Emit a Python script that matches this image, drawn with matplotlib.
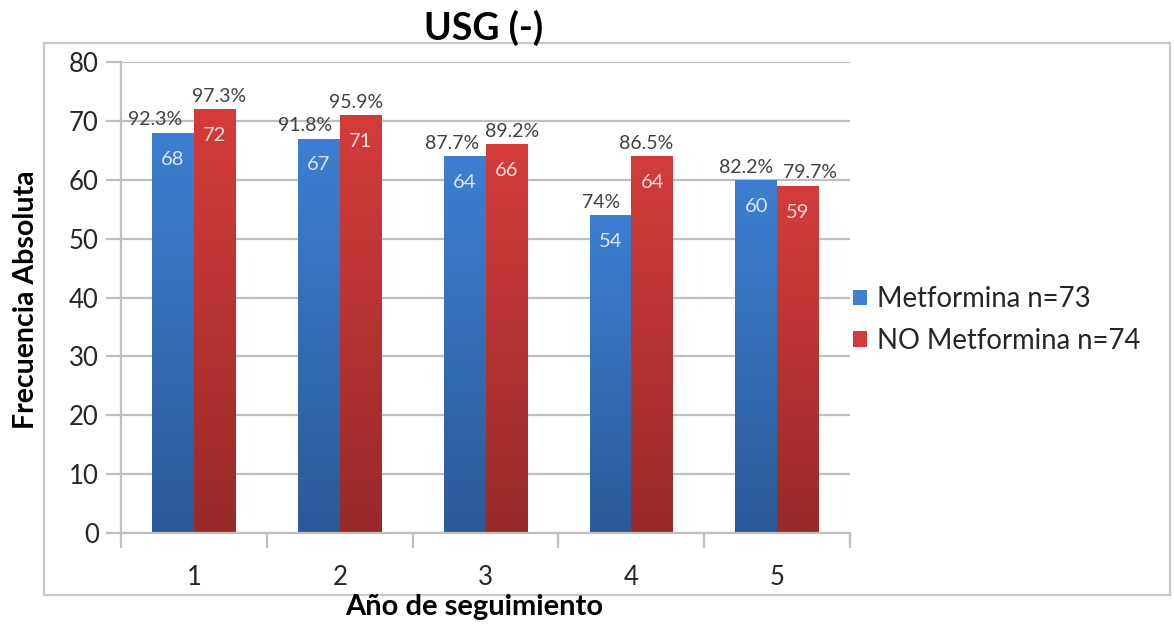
import numpy as np
import matplotlib
matplotlib.use("Agg")
import matplotlib.pyplot as plt
from matplotlib.patches import Rectangle, Patch
from matplotlib.colors import LinearSegmentedColormap

plt.rcParams['font.family'] = ['Lato', 'DejaVu Sans']

# Data
years = ["1", "2", "3", "4", "5"]
metformina = [68, 67, 64, 54, 60]
no_metformina = [72, 71, 66, 64, 59]
pct_metformina = ["92.3%", "91.8%", "87.7%", "74%", "82.2%"]
pct_no_metformina = ["97.3%", "95.9%", "89.2%", "86.5%", "79.7%"]
series_names = ["Metformina n=73", "NO Metformina n=74"]

# Styling
blue_top, blue_bot = "#3d7fd2", "#2a5a98"
red_top, red_bot = "#d43c3b", "#982a2a"
grid_col = "#bfbfbf"
text_col = "#262626"

fig = plt.figure(figsize=(11.74, 6.27), dpi=100)
W, H = 1174, 627

# outer chart frame
fig.patches.append(Rectangle((44 / W, 1 - 595 / H), (1170 - 44) / W, (595 - 43) / H,
                             transform=fig.transFigure, fill=False,
                             edgecolor="#c8c8c8", lw=1.6, zorder=0))

ax = fig.add_axes([121 / W, 1 - 533 / H, (850 - 121) / W, (533 - 62) / H])

x = np.arange(len(years))
bw = 1 / 3.5
bars_b = ax.bar(x - bw / 2, metformina, bw, color=blue_top, zorder=2, lw=0)
bars_r = ax.bar(x + bw / 2, no_metformina, bw, color=red_top, zorder=2, lw=0)

# vertical gradient fill clipped to each bar
grad = np.linspace(0, 1, 256).reshape(-1, 1)
cmap_b = LinearSegmentedColormap.from_list("b", [blue_bot, blue_top])
cmap_r = LinearSegmentedColormap.from_list("r", [red_bot, red_top])
for bars, cm in ((bars_b, cmap_b), (bars_r, cmap_r)):
    for b in bars:
        x0, w, h = b.get_x(), b.get_width(), b.get_height()
        im = ax.imshow(grad, cmap=cm, extent=[x0, x0 + w, 0, h], origin="lower",
                       aspect="auto", zorder=2.5, interpolation="bilinear")
        im.set_clip_path(b)

ax.set_xlim(-0.5, len(years) - 0.5)
ax.set_ylim(0, 80)

# axes appearance
for s in ("top", "right"):
    ax.spines[s].set_visible(False)
for s in ("left", "bottom"):
    ax.spines[s].set_color(grid_col)
    ax.spines[s].set_linewidth(1.6)
ax.set_yticks(np.arange(0, 81, 10))
ax.yaxis.grid(True, color=grid_col, lw=1.6, zorder=0)
ax.set_axisbelow(True)
ax.tick_params(axis="y", length=11, width=1.6, color=grid_col, labelsize=18.5,
               labelcolor=text_col, pad=5)
ax.set_xticks(x)
ax.set_xticklabels(years)
ax.set_xticks(np.arange(-0.5, len(years), 1), minor=True)
ax.tick_params(axis="x", which="major", length=0, labelsize=18.5, labelcolor=text_col, pad=23)
ax.tick_params(axis="x", which="minor", length=11, width=1.6, color=grid_col)

# data labels
nudge_b = [-13, -10, -9, -7, -7]
nudge_r = [3, -3, 4, -4, 9]
for i in range(len(years)):
    for bars, vals, pcts, nud, inner in ((bars_b, metformina, pct_metformina, nudge_b, "#dbe6f4"),
                                         (bars_r, no_metformina, pct_no_metformina, nudge_r, "#f6dcdc")):
        b = bars[i]
        cx = b.get_x() + b.get_width() / 2
        ax.annotate(pcts[i], (cx, vals[i]), xytext=(nud[i], 3), textcoords="offset points",
                    ha="center", va="bottom", fontsize=14, color="#404040", zorder=5)
        ax.annotate(str(vals[i]), (cx, vals[i]), xytext=(0, -19), textcoords="offset points",
                    ha="center", va="center", fontsize=14.5, color=inner, zorder=5)

# titles
fig.text(484 / W, 1 - 28 / H, "USG (-)", ha="center", va="center",
         fontsize=27, fontweight="bold", color="black")
fig.text(26 / W, 1 - 300 / H, "Frecuencia Absoluta", ha="center", va="center",
         rotation=90, fontsize=20.5, fontweight="bold", color="black")
fig.text(474 / W, 1 - 607 / H, "Año de seguimiento", ha="center", va="center",
         fontsize=21, fontweight="bold", color="black")

# legend
handles = [Patch(facecolor=blue_top, edgecolor="none"),
           Patch(facecolor=red_top, edgecolor="none")]
fig.legend(handles, series_names, loc="center left",
           bbox_to_anchor=(828 / W, 1 - 320 / H), frameon=False, fontsize=19.8,
           handlelength=0.5, handleheight=0.5, handletextpad=0.37,
           labelspacing=0.57, labelcolor=text_col)

fig.savefig("out.png", dpi=100)
